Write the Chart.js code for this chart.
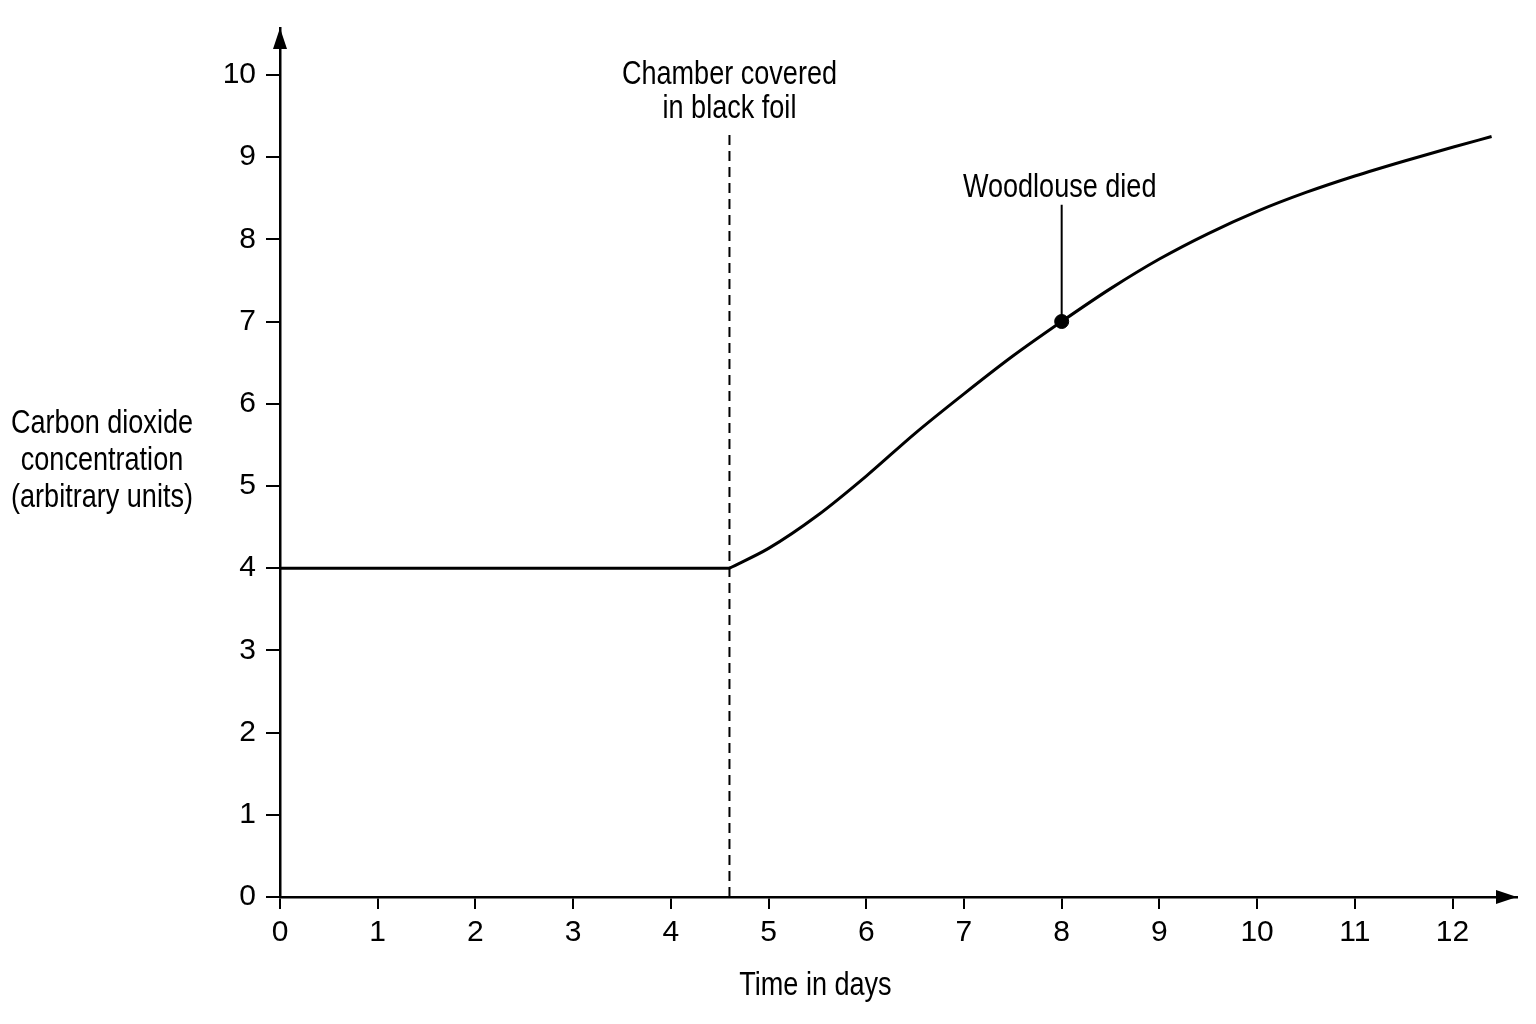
<!DOCTYPE html>
<html>
<head>
<meta charset="utf-8">
<title>Carbon dioxide concentration</title>
<script src="https://cdn.jsdelivr.net/npm/chart.js@4.4.1/dist/chart.umd.min.js"></script>
<style>
  html, body { margin: 0; padding: 0; background: #fff; }
  canvas { display: block; }
</style>
</head>
<body>
<canvas id="co2Chart" width="1536" height="1024"></canvas>
<script>
// values
const flatDays = [0, 4.6];
const flatCo2 = [4, 4];
const riseDays = [4.6, 5, 5.5, 6, 6.5, 7, 7.5, 8, 8.5, 9, 9.5, 10, 10.5, 11, 11.5, 12, 12.4];
const riseCo2 = [4, 4.24, 4.64, 5.12, 5.64, 6.12, 6.58, 7.0, 7.4, 7.76, 8.07, 8.34, 8.57, 8.77, 8.95, 9.12, 9.25];

const xTicks = [0, 1, 2, 3, 4, 5, 6, 7, 8, 9, 10, 11, 12];
const yTicks = [0, 1, 2, 3, 4, 5, 6, 7, 8, 9, 10];

const foilDay = 4.6;
const foilLineTop = 9.27;
const deathDay = 8;
const deathCo2 = 7;
const deathLineTop = 8.42;

const foilLabel = ['Chamber covered', 'in black foil'];
const deathLabel = 'Woodlouse died';
const xTitle = 'Time in days';
const yTitle = ['Carbon dioxide', 'concentration', '(arbitrary units)'];

const FONT = "'Liberation Sans', Arial, sans-serif";

// no narrow face is installed, so squeeze the regular one
function narrowText(ctx, text, x, y) {
  ctx.save();
  ctx.translate(x, y);
  ctx.scale(0.82, 1);
  ctx.fillText(text, 0, 0);
  ctx.restore();
}

// axis arrows, annotation texts, titles
const extras = {
  id: 'extras',
  afterDraw(chart) {
    const { ctx, chartArea, scales } = chart;
    const x = scales.x, y = scales.y;
    ctx.save();
    ctx.fillStyle = '#000';

    // arrow heads
    const x0 = y.getPixelForValue(0);
    ctx.beginPath();
    ctx.moveTo(chartArea.right, x0);
    ctx.lineTo(chartArea.right - 21, x0 - 7);
    ctx.lineTo(chartArea.right - 21, x0 + 7);
    ctx.closePath();
    ctx.fill();
    const y0 = x.getPixelForValue(0);
    ctx.beginPath();
    ctx.moveTo(y0, chartArea.top);
    ctx.lineTo(y0 - 7, chartArea.top + 21);
    ctx.lineTo(y0 + 7, chartArea.top + 21);
    ctx.closePath();
    ctx.fill();

    ctx.font = '33px ' + FONT;
    ctx.textAlign = 'center';
    ctx.textBaseline = 'middle';

    const fx = x.getPixelForValue(foilDay);
    const fy = y.getPixelForValue(foilLineTop);
    narrowText(ctx, foilLabel[0], fx, fy - 60);
    narrowText(ctx, foilLabel[1], fx, fy - 26);

    const dx = x.getPixelForValue(deathDay);
    const dy = y.getPixelForValue(deathLineTop);
    narrowText(ctx, deathLabel, dx - 2, dy - 17);

    // y title, written horizontally
    const cy = y.getPixelForValue(5.3);
    yTitle.forEach((line, i) => narrowText(ctx, line, 102, cy + (i - 1) * 37));

    // x title
    narrowText(ctx, xTitle, x.getPixelForValue(5.48), 986);

    ctx.restore();
  }
};

const ctx = document.getElementById('co2Chart').getContext('2d');
new Chart(ctx, {
  type: 'line',
  data: {
    datasets: [
      {
        label: 'CO2 before',
        data: flatDays.map((d, i) => ({ x: d, y: flatCo2[i] })),
        borderColor: '#000',
        borderWidth: 3,
        pointRadius: 0,
        fill: false,
      },
      {
        label: 'CO2 after',
        data: riseDays.map((d, i) => ({ x: d, y: riseCo2[i] })),
        borderColor: '#000',
        borderWidth: 3,
        pointRadius: 0,
        cubicInterpolationMode: 'monotone',
        fill: false,
      },
      {
        label: 'foil',
        data: [{ x: foilDay, y: 0 }, { x: foilDay, y: foilLineTop }],
        borderColor: '#000',
        borderWidth: 2,
        borderDash: [10, 6],
        pointRadius: 0,
        fill: false,
      },
      {
        label: 'pointer',
        data: [{ x: deathDay, y: deathCo2 }, { x: deathDay, y: deathLineTop }],
        borderColor: '#000',
        borderWidth: 2,
        pointRadius: 0,
        fill: false,
      },
      {
        label: 'died',
        type: 'scatter',
        data: [{ x: deathDay, y: deathCo2 }],
        backgroundColor: '#000',
        borderColor: '#000',
        pointRadius: 7,
      },
    ],
  },
  options: {
    responsive: false,
    animation: false,
    devicePixelRatio: 1,
    layout: { padding: { left: 0, right: 19, top: 28, bottom: 0 } },
    plugins: {
      legend: { display: false },
      tooltip: { enabled: false },
    },
    scales: {
      x: {
        type: 'linear',
        min: 0,
        max: 12.66,
        afterBuildTicks: s => { s.ticks = xTicks.map(v => ({ value: v })); },
        afterFit: s => { s.height = 127; },
        grid: { display: true, drawOnChartArea: false, drawTicks: true, tickLength: 12, color: '#000', lineWidth: 2 },
        border: { display: true, color: '#000', width: 2.5 },
        ticks: { color: '#000', padding: 6, maxRotation: 0, font: { family: FONT, size: 30 } },
      },
      y: {
        type: 'linear',
        min: 0,
        max: 10.57,
        afterBuildTicks: s => { s.ticks = yTicks.map(v => ({ value: v })); },
        afterFit: s => { s.width = 280; },
        grid: { display: true, drawOnChartArea: false, drawTicks: true, tickLength: 14, color: '#000', lineWidth: 2 },
        border: { display: true, color: '#000', width: 2.5 },
        ticks: { color: '#000', padding: 10, font: { family: FONT, size: 30 } },
      },
    },
  },
  plugins: [extras],
});
</script>
</body>
</html>
